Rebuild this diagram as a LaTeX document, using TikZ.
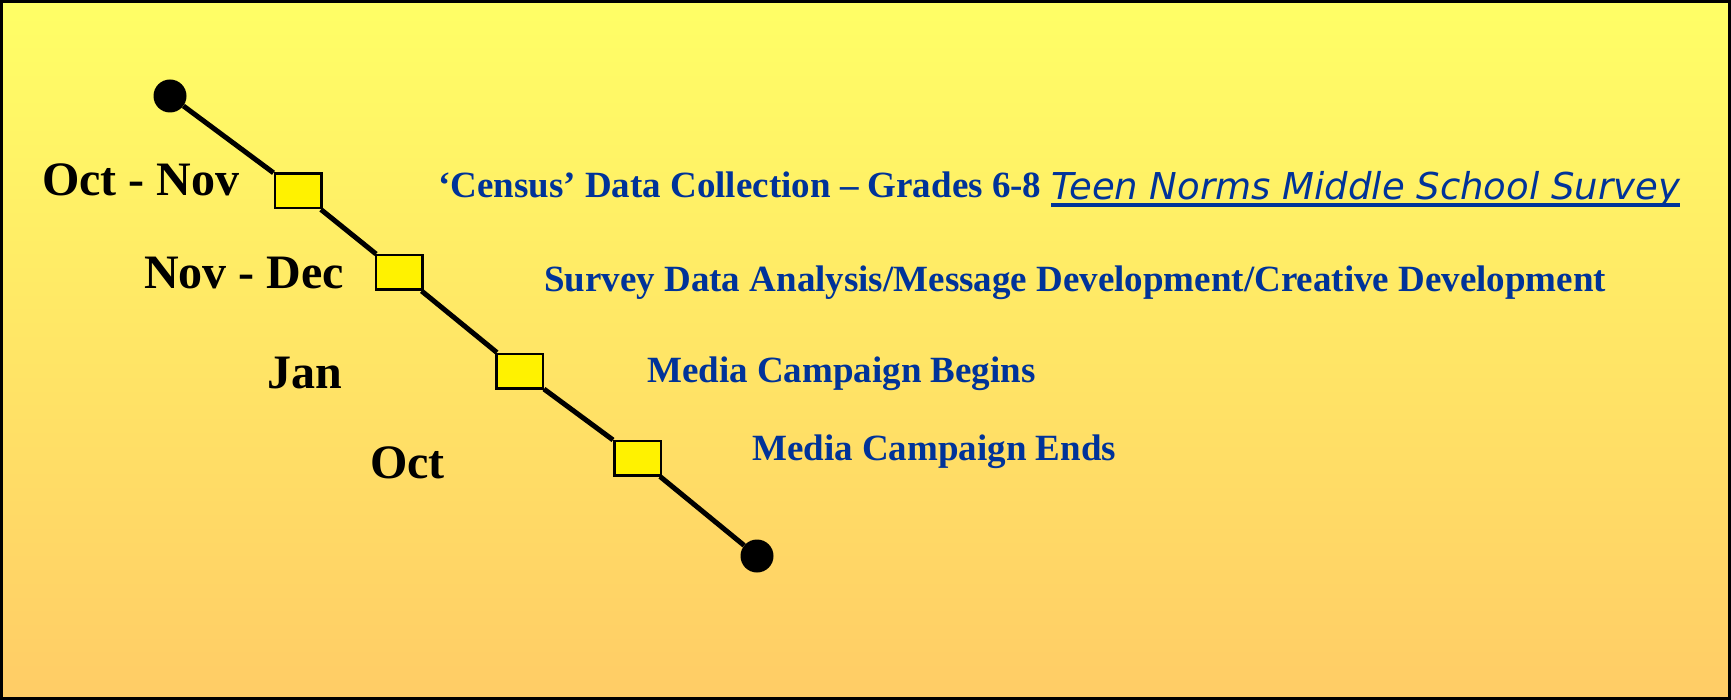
\documentclass[tikz,border=0pt]{standalone}
\usepackage{fontspec}
\setmainfont{Liberation Serif}
\newfontfamily\comicfont{DejaVu Sans}
\usetikzlibrary{calc}
\definecolor{bgtop}{RGB}{255,255,102}
\definecolor{bgbottom}{RGB}{255,204,102}
\definecolor{textblue}{RGB}{0,51,153}
\tikzset{
  dot/.style={circle,fill=black,minimum size=33pt,inner sep=0pt},
  stepbox/.style={draw=black,line width=2.5pt,fill=yellow,minimum width=46.5pt,minimum height=34.5pt,inner sep=0pt},
  when/.style={anchor=base west,inner sep=0pt,font=\fontsize{48}{50}\selectfont\bfseries},
  what/.style={anchor=base west,inner sep=0pt,text=textblue,font=\fontsize{37}{40}\selectfont\bfseries}
}
\begin{document}
\begin{tikzpicture}[x=1pt,y=-1pt]
  \useasboundingbox (0,0) rectangle (1731,700);
  \shade[top color=bgtop,bottom color=bgbottom] (0,0) rectangle (1731,700);
  \draw[line width=3pt] (1.5,1.5) rectangle (1729.5,698.5);
  % timeline
  \node[dot] (start) at (170,96) {};
  \node[stepbox] (m1) at (298,191) {};
  \node[stepbox] (m2) at (399,272.5) {};
  \node[stepbox] (m3) at (519.5,371) {};
  \node[stepbox] (m4) at (637.5,458) {};
  \node[dot] (end) at (757,556) {};
  \draw[line width=5pt] (start) -- (m1) -- (m2) -- (m3) -- (m4) -- (end);
  % dates
  \node[when] (t1) at (42,196) {Oct - Nov};
  \node[when] (t2) at (144,289) {Nov - Dec};
  \node[when] (t3) at (267,388) {Jan};
  \node[when] (t4) at (370,478) {Oct};
  % events
  \node[what] (d1) at (438,198) {‘Census’ Data Collection – Grades 6-8};
  \node[what,font=\fontsize{37}{40}\selectfont\comicfont\itshape] (survey) at (1051,200) {Teen Norms Middle School Survey};
  \draw[textblue,line width=3.5pt] ($(survey.base west)+(0,5)$) -- ($(survey.base east)+(0,5)$);
  \node[what] (d2) at (544,292) {Survey Data Analysis/Message Development/Creative Development};
  \node[what] (d3) at (647,382) {Media Campaign Begins};
  \node[what] (d4) at (752,460) {Media Campaign Ends};
\end{tikzpicture}
\end{document}
